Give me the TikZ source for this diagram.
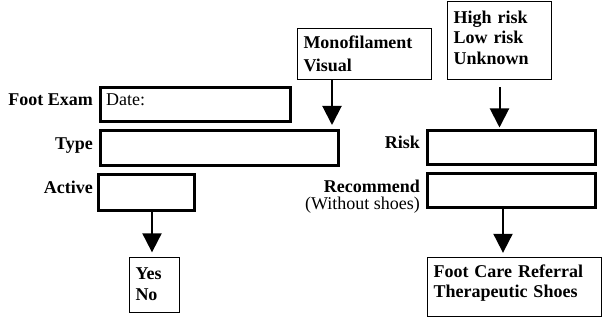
\documentclass[tikz,border=0pt]{standalone}
\usepackage{fontspec}
\setmainfont{Liberation Serif}
\usetikzlibrary{arrows.meta}
\tikzset{
    fieldbox/.style = {draw, line width = 3pt, inner sep = 0pt},
    listbox/.style = {draw, line width = 1.3pt, inner sep = 0pt},
    listtext/.style = {inner xsep = 6pt, inner ysep = 0pt, align = left, font = \bfseries},
    lbl/.style = {anchor = base east, inner sep = 0pt, align = right, font = \bfseries},
    arr/.style = {-{Triangle[width = 19pt, length = 19pt]}, line width = 2pt}
}
\begin{document}
\fontsize{18}{20.5}\selectfont
\begin{tikzpicture}[x = 1pt, y = -1pt]
        \useasboundingbox (0, 0) rectangle (603, 320);
        \node[fieldbox, minimum width = 190, minimum height = 34](exam) at (195.5, 104.5){};
        \node[fieldbox, minimum width = 238, minimum height = 35](type) at (219.5, 148){};
        \node[fieldbox, minimum width = 96, minimum height = 36](active) at (146.5, 192.5){};
        \node[fieldbox, minimum width = 168, minimum height = 34](risk) at (511.5, 147.5){};
        \node[fieldbox, minimum width = 168, minimum height = 34](recommend) at (511.5, 190.5){};
        \node[listbox, minimum width = 134, minimum height = 51](mono) at (364.5, 54){};
        \node[listbox, minimum width = 104, minimum height = 78](level) at (499.5, 40.5){};
        \node[listbox, minimum width = 50, minimum height = 55](yesno) at (154.5, 285){};
        \node[listbox, minimum width = 174, minimum height = 59](care) at (514.5, 287){};
        \node[listtext, text width = 122](monotext) at (mono.center){Monofilament\\[2.5pt]Visual};
        \node[listtext, text width = 92](leveltext) at ([yshift = 3pt]level.center){High risk\\Low risk\\Unknown};
        \node[listtext, text width = 38](yesnotext) at ([yshift = 1pt]yesno.center){Yes\\No};
        \node[listtext, text width = 162](caretext) at ([yshift = 4pt]care.center){Foot Care Referral\\Therapeutic Shoes};
        \node[lbl](examlbl) at (93, 106){Foot Exam};
        \node[anchor = base west, inner sep = 0pt](date) at (106, 106){Date:};
        \node[lbl](typelbl) at (93, 150){Type};
        \node[lbl](activelbl) at (93, 194){Active};
        \node[lbl](risklbl) at (420, 149){Risk};
        \node[lbl](recommendlbl) at (420, 193){Recommend};
        \node[lbl, font = \mdseries](shoeslbl) at (420, 210){(Without shoes)};
        \draw[arr, shorten > = 4pt] ([xshift = -32.5pt]mono.south) -- ([xshift = -32.5pt]mono.south |- type.north);
        \draw[arr, shorten < = 7pt, shorten > = 1.5pt] (level.south) -- (level.south |- risk.north);
        \draw[arr, shorten > = 4.5pt] ([xshift = 5.5pt]active.south) -- ([xshift = 5.5pt]active.south |- yesno.north);
        \draw[arr, shorten > = 4pt] ([xshift = -8.5pt]recommend.south) -- ([xshift = -8.5pt]recommend.south |- care.north);
    \end{tikzpicture}
\end{document}
